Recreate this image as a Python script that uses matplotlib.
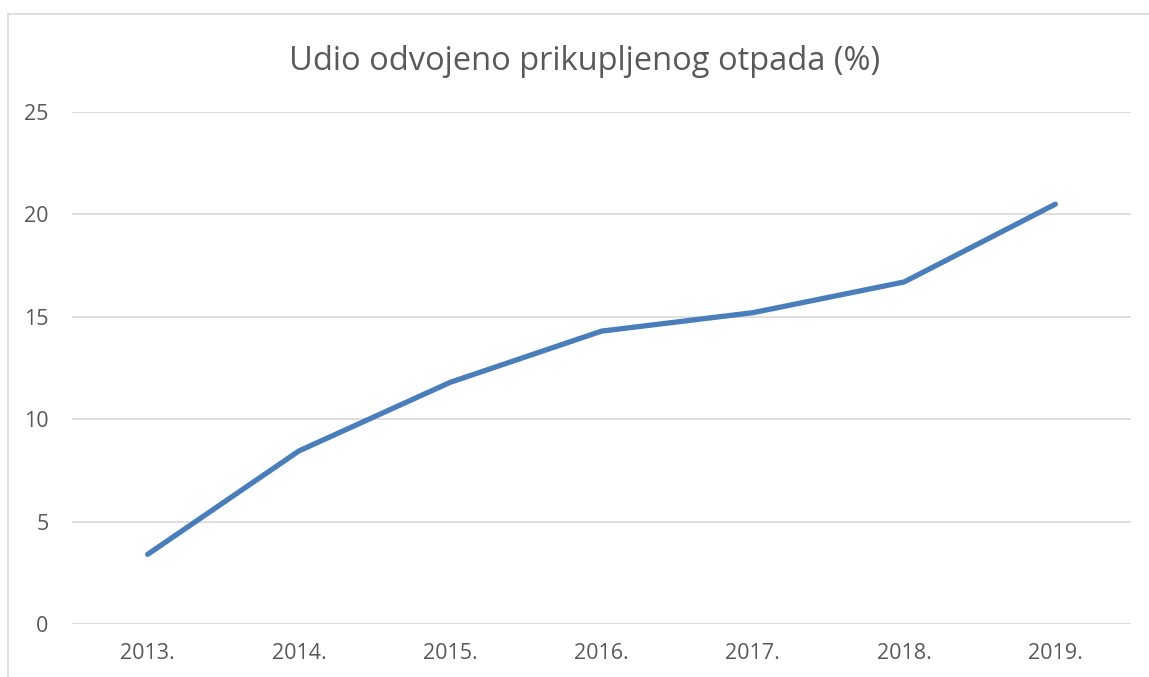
import matplotlib.pyplot as plt
from matplotlib.patches import Rectangle

# udio odvojeno prikupljenog otpada po godinama
godine = ['2013.', '2014.', '2015.', '2016.', '2017.', '2018.', '2019.']
udio = [3.4, 8.45, 11.8, 14.3, 15.2, 16.7, 20.5]

plt.rcParams['font.family'] = ['Open Sans', 'DejaVu Sans']

fig = plt.figure(figsize=(11.49, 6.77), dpi=100)
ax = fig.add_axes([72/1149, 53/677, (1131-72)/1149, (624-112)/677])

# okvir grafikona (desni i donji rub su izvan slike)
fig.patches.append(Rectangle((8/1149, -0.1), 1.2, 1 - 14/677 + 0.1,
                             transform=fig.transFigure, fill=False,
                             edgecolor='#d9d9d9', linewidth=1.2))

x = range(len(godine))
ax.plot(x, udio, color='#4a7ebb', linewidth=3.8, solid_capstyle='round',
        solid_joinstyle='round', zorder=3)

ax.set_xlim(-0.5, len(godine) - 0.5)
ax.set_ylim(0, 25)
ax.set_yticks([0, 5, 10, 15, 20, 25])
ax.set_xticks(list(x))
ax.set_xticklabels(godine)
ax.grid(axis='y', color='#d9d9d9', linewidth=1.2)
ax.set_axisbelow(True)
for s in ax.spines.values():
    s.set_visible(False)
ax.tick_params(length=0, labelsize=15.5, colors='#595959')
ax.tick_params(axis='x', pad=14)
ax.tick_params(axis='y', pad=17)

fig.text(585/1149, 1 - 62/677, 'Udio odvojeno prikupljenog otpada (%)',
         ha='center', va='center', fontsize=23.5, color='#595959')

plt.savefig('out.png', dpi=100)
